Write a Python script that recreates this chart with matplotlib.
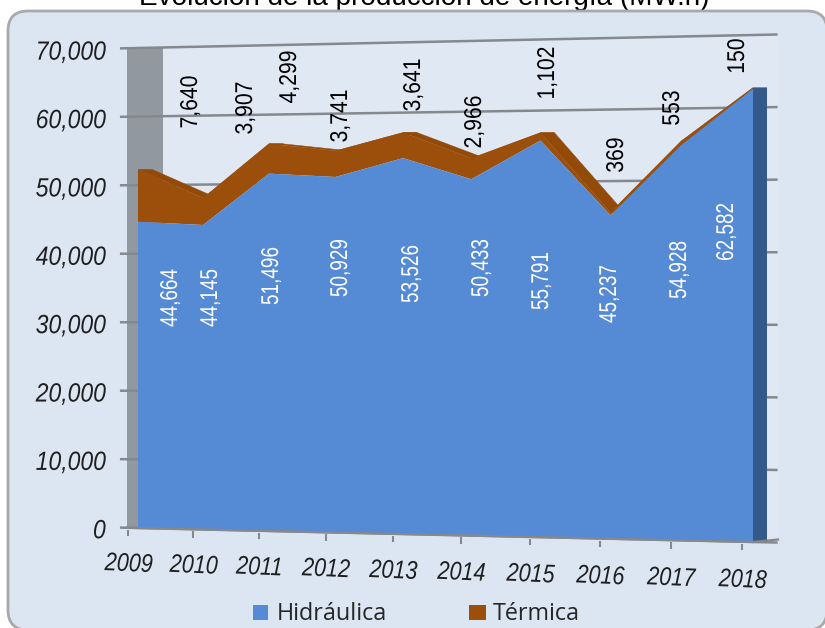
import numpy as np
import matplotlib
matplotlib.use("Agg")
import matplotlib.pyplot as plt
from matplotlib.patches import FancyBboxPatch
from matplotlib.patheffects import AbstractPathEffect
from matplotlib.transforms import Transform, Affine2D

years = [2009, 2010, 2011, 2012, 2013, 2014, 2015, 2016, 2017, 2018]
hidraulica = [44664, 44145, 51496, 50929, 53526, 50433, 55791, 45237, 54928, 62582]
termica = [7640, 3907, 4299, 3741, 3641, 2966, 1102, 369, 553, 150]
y_ticks = [0, 10000, 20000, 30000, 40000, 50000, 60000, 70000]
title = "Evolución de la producción de energía (MW.h)"

# label centres in the picture
hid_pos = [(171, 298), (211, 298), (272, 276), (341, 268), (412, 274),
           (482, 268), (542, 281), (610, 294), (680, 270), (727, 232)]
ter_pos = [(191, 102), (246, 108), (290, 77), (341, 116), (414, 85),
           (475, 122), (548, 73), (617, 155), (673, 108), (738, 56)]

BLUE = "#558AD5"
BROWN = "#9C4F0A"
GRID = "#85888C"
FONT = "Liberation Sans"


class Condense(AbstractPathEffect):
    """Squeezes the glyphs along the reading direction (the source text is narrow)."""

    def __init__(self, sx, anchor="center"):
        super().__init__()
        self.sx = sx
        self.anchor = anchor

    def draw_path(self, renderer, gc, tpath, affine, rgbFace=None):
        xs = tpath.vertices[:, 0]
        a = {"left": xs.min(), "right": xs.max(), "center": (xs.min() + xs.max()) / 2}[self.anchor]
        pre = Affine2D().translate(-a, 0).scale(self.sx, 1).translate(a, 0)
        renderer.draw_path(gc, tpath, pre + affine, rgbFace)


src = [(2009, 0), (2018, 0), (2009, 70000), (2018, 70000)]
dst = [(138, 528), (753, 542), (138, 48), (753, 35)]
A = []
b = []
for (u, v), (px, py) in zip(src, dst):
    u0, v0 = u - 2009, v / 70000
    A.append([u0, v0, 1, 0, 0, 0, -px * u0, -px * v0]); b.append(px)
    A.append([0, 0, 0, u0, v0, 1, -py * u0, -py * v0]); b.append(py)
H = np.append(np.linalg.solve(np.array(A, float), np.array(b, float)), 1).reshape(3, 3)


class Perspective(Transform):
    input_dims = output_dims = 2
    is_separable = False
    has_inverse = False

    def transform_non_affine(self, values):
        values = np.asarray(values, float)
        pts = np.column_stack([values[:, 0] - 2009, values[:, 1] / 70000, np.ones(len(values))])
        out = pts @ H.T
        return out[:, :2] / out[:, 2:3]


fig = plt.figure(figsize=(8.25, 6.28), dpi=100, facecolor="white")
ax = fig.add_axes([0, 0, 1, 1])
ax.set_xlim(0, 825)
ax.set_ylim(628, 0)
ax.axis("off")

proj = Perspective()
persp = proj + ax.transData
DEPTH = 14

ax.add_patch(FancyBboxPatch((8, 11), 819, 619, boxstyle="round,pad=0,rounding_size=20",
                            fc="#DCE6F2", ec="#A9A9A9", lw=2, zorder=1))

ax.text(424, 5, title, ha="center", va="baseline", fontsize=20.1, family=FONT,
        color="black", zorder=0.5)

# back wall
ax.fill([163, 778, 778, 163], [48, 35, 540, 528], color="#E0E8F4", lw=0, zorder=2)
# left wall
ax.fill([127, 163, 163, 127], [48, 48, 528, 528], color="#92989F", lw=0, zorder=3)

# gridlines and y labels
for v in y_ticks:
    ax.plot([2008.72, 2018.34], [v, v], transform=persp, color=GRID, lw=1.8,
            solid_capstyle="butt", zorder=4)
    ax.text(2008.5, v, f"{v:,}", transform=proj + Affine2D().translate(0, 4) + ax.transData,
            ha="right", va="center", fontsize=19, style="italic", family=FONT,
            color="#1F1F1F", zorder=9, path_effects=[Condense(0.87, "right")])

yrs = np.array(years, float)
hid = np.array(hidraulica, float)
tot = hid + np.array(termica, float)

# extruded top surface, segment by segment
top = proj.transform(np.column_stack([yrs, tot]))
for (x0, y0), (x1, y1) in zip(top[:-1], top[1:]):
    ax.fill([x0, x1, x1 + DEPTH, x0 + DEPTH], [y0, y1, y1, y0], color="#934A08", lw=0.3,
            ec="#934A08", zorder=5)
# extruded right side
base_r = proj.transform(np.array([[yrs[-1], 0.0]]))[0]
ax.fill([top[-1, 0], top[-1, 0] + DEPTH, base_r[0] + DEPTH, base_r[0]],
        [top[-1, 1], top[-1, 1], base_r[1], base_r[1]], color="#35598A", lw=0, zorder=5.2)

# front faces
ax.fill(np.r_[yrs, yrs[::-1]], np.r_[tot, hid[::-1]], transform=persp, color=BROWN, lw=0, zorder=6)
ax.fill(np.r_[yrs, yrs[::-1]], np.r_[hid, np.zeros(10)], transform=persp, color=BLUE, lw=0, zorder=6.1)

# floor and x axis
ax.plot([2009, 2018], [0, 0], transform=persp, color=GRID, lw=1.6, zorder=6.2)
ax.plot([753, 778], [542, 539.5], color=GRID, lw=1.6, zorder=6.2)
ax.plot([127, 138], [527.5, 528], color=GRID, lw=1.6, zorder=6.2)
for y in years:
    ax.plot([y - 0.15, y - 0.15], [-300, -1200], transform=persp, color=GRID, lw=1.5,
            solid_capstyle="butt", zorder=6.2)
    ax.text(y - 0.14, -5300, str(y), transform=persp, ha="center", va="center", rotation=-2.5,
            rotation_mode="anchor", fontsize=18.5, style="italic", family=FONT,
            color="#1F1F1F", zorder=9, path_effects=[Condense(0.84)])

for val, (px, py) in zip(hidraulica, hid_pos):
    ax.text(px, py, f"{val:,}", rotation=90, ha="center", va="center", color="white",
            fontsize=17.5, family=FONT, zorder=9, path_effects=[Condense(0.78)])
for val, (px, py) in zip(termica, ter_pos):
    ax.text(px, py, f"{val:,}", rotation=90, ha="center", va="center", color="black",
            fontsize=17.5, family=FONT, zorder=9, path_effects=[Condense(0.87)])

# legend
ax.fill([253, 268, 268, 253], [605, 605, 620, 620], color=BLUE, lw=0, zorder=9)
ax.text(277, 614, "Hidráulica", ha="left", va="center", fontsize=16.8, family="Open Sans",
        color="#262626", zorder=9)
ax.fill([469, 486, 486, 469], [605, 605, 620, 620], color=BROWN, lw=0, zorder=9)
ax.text(493, 614, "Térmica", ha="left", va="center", fontsize=16.8, family="Open Sans",
        color="#262626", zorder=9)

fig.savefig("out.png", dpi=100, facecolor="white")
